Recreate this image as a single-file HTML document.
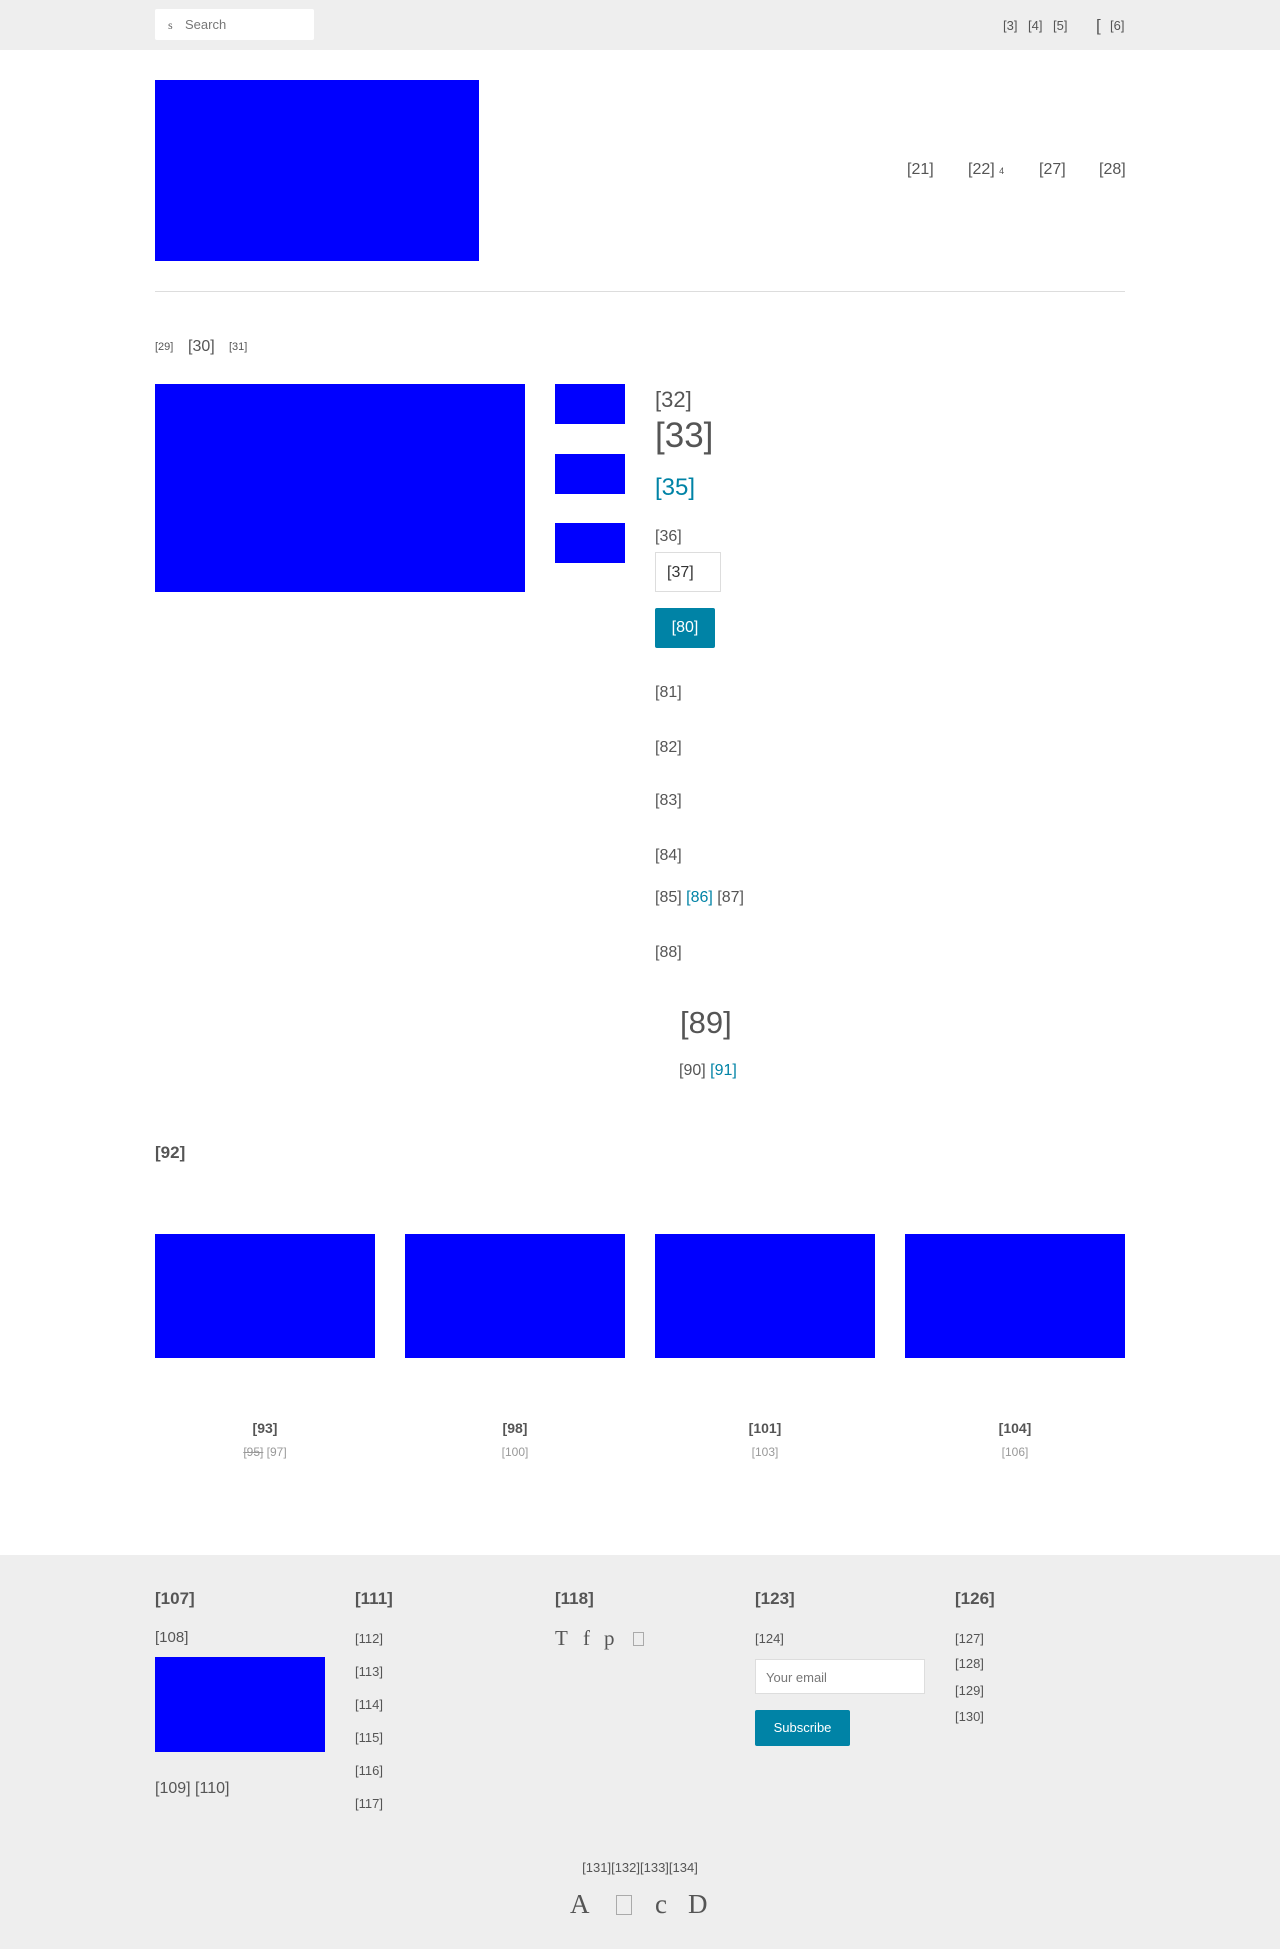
<!DOCTYPE html>
<html><head><meta charset="utf-8"><style>
*{box-sizing:border-box;margin:0;padding:0}
body{width:1280px;height:1949px;position:relative;background:#fff;font-family:"Liberation Sans",sans-serif;color:#555;overflow:hidden}
.a{position:absolute;white-space:nowrap;line-height:1}
.blue{position:absolute;background:#0000ff}
.teal{color:#0083a6}
</style></head><body>
<div class="a" style="left:0;top:0;width:1280px;height:50px;background:#eeeeee"></div>
<div class="a" style="left:155px;top:9px;width:159px;height:31px;background:#fff;border-radius:2px"></div>
<div class="a" style="left:168px;top:19px;font-size:12px;font-family:'Liberation Serif',serif;color:#666">s</div>
<div class="a" style="left:185px;top:18px;font-size:13px;color:#777">Search</div>
<div class="a" style="left:1003px;top:19px;font-size:13px">[3]</div>
<div class="a" style="left:1028px;top:19px;font-size:13px">[4]</div>
<div class="a" style="left:1053px;top:19px;font-size:13px">[5]</div>
<div class="a" style="left:1096px;top:17px;font-size:17px">[</div>
<div class="a" style="left:1110px;top:19px;font-size:13px">[6]</div>

<div class="blue" style="left:155px;top:80px;width:324px;height:181px"></div>
<div class="a" style="left:907px;top:162px;font-size:16px">[21]</div>
<div class="a" style="left:968px;top:162px;font-size:16px">[22] <span style="font-size:9px">4</span></div>
<div class="a" style="left:1039px;top:162px;font-size:16px">[27]</div>
<div class="a" style="left:1099px;top:162px;font-size:16px">[28]</div>
<div class="a" style="left:155px;top:291px;width:970px;height:1px;background:#ddd"></div>

<div class="a" style="left:155px;top:342px;font-size:11px">[29]</div>
<div class="a" style="left:188px;top:339px;font-size:16px">[30]</div>
<div class="a" style="left:229px;top:342px;font-size:11px">[31]</div>

<div class="blue" style="left:155px;top:384px;width:370px;height:208px"></div>
<div class="blue" style="left:555px;top:384px;width:70px;height:40px"></div>
<div class="blue" style="left:555px;top:454px;width:70px;height:40px"></div>
<div class="blue" style="left:555px;top:523px;width:70px;height:40px"></div>

<div class="a" style="left:655px;top:389px;font-size:22px">[32]</div>
<div class="a" style="left:655px;top:418px;font-size:35px">[33]</div>
<div class="a teal" style="left:655px;top:476px;font-size:24px">[35]</div>
<div class="a" style="left:655px;top:529px;font-size:16px">[36]</div>
<div class="a" style="left:655px;top:552px;width:66px;height:40px;border:1px solid #ddd;font-size:16px;padding:12px 0 0 11px;color:#333">[37]</div>
<div class="a" style="left:655px;top:608px;width:60px;height:40px;background:#0083a6;color:#fff;font-size:16px;text-align:center;padding-top:12px;border-radius:2px">[80]</div>
<div class="a" style="left:655px;top:685px;font-size:16px">[81]</div>
<div class="a" style="left:655px;top:740px;font-size:16px">[82]</div>
<div class="a" style="left:655px;top:793px;font-size:16px">[83]</div>
<div class="a" style="left:655px;top:848px;font-size:16px">[84]</div>
<div class="a" style="left:655px;top:890px;font-size:16px">[85] <span class="teal">[86]</span> [87]</div>
<div class="a" style="left:655px;top:945px;font-size:16px">[88]</div>
<div class="a" style="left:680px;top:1007px;font-size:31px">[89]</div>
<div class="a" style="left:679px;top:1063px;font-size:16px">[90] <span class="teal">[91]</span></div>

<div class="a" style="left:155px;top:1144px;font-size:17px;font-weight:bold">[92]</div>

<div class="blue" style="left:155px;top:1234px;width:220px;height:124px"></div>
<div class="blue" style="left:405px;top:1234px;width:220px;height:124px"></div>
<div class="blue" style="left:655px;top:1234px;width:220px;height:124px"></div>
<div class="blue" style="left:905px;top:1234px;width:220px;height:124px"></div>
<div class="a" style="left:155px;width:220px;text-align:center;top:1421px;font-size:14px;font-weight:bold">[93]</div>
<div class="a" style="left:405px;width:220px;text-align:center;top:1421px;font-size:14px;font-weight:bold">[98]</div>
<div class="a" style="left:655px;width:220px;text-align:center;top:1421px;font-size:14px;font-weight:bold">[101]</div>
<div class="a" style="left:905px;width:220px;text-align:center;top:1421px;font-size:14px;font-weight:bold">[104]</div>
<div class="a" style="left:155px;width:220px;text-align:center;top:1446px;font-size:12px;color:#999"><s>[95]</s> [97]</div>
<div class="a" style="left:405px;width:220px;text-align:center;top:1446px;font-size:12px;color:#999">[100]</div>
<div class="a" style="left:655px;width:220px;text-align:center;top:1446px;font-size:12px;color:#999">[103]</div>
<div class="a" style="left:905px;width:220px;text-align:center;top:1446px;font-size:12px;color:#999">[106]</div>

<div class="a" style="left:0;top:1555px;width:1280px;height:394px;background:#eeeeee"></div>
<div class="a" style="left:155px;top:1590px;font-size:17px;font-weight:bold">[107]</div>
<div class="a" style="left:355px;top:1590px;font-size:17px;font-weight:bold">[111]</div>
<div class="a" style="left:555px;top:1590px;font-size:17px;font-weight:bold">[118]</div>
<div class="a" style="left:755px;top:1590px;font-size:17px;font-weight:bold">[123]</div>
<div class="a" style="left:955px;top:1590px;font-size:17px;font-weight:bold">[126]</div>

<div class="a" style="left:155px;top:1630px;font-size:15px">[108]</div>
<div class="blue" style="left:155px;top:1657px;width:170px;height:95px"></div>
<div class="a" style="left:155px;top:1781px;font-size:16px">[109] [110]</div>

<div class="a" style="left:355px;top:1632px;font-size:13px">[112]</div>
<div class="a" style="left:355px;top:1665px;font-size:13px">[113]</div>
<div class="a" style="left:355px;top:1698px;font-size:13px">[114]</div>
<div class="a" style="left:355px;top:1731px;font-size:13px">[115]</div>
<div class="a" style="left:355px;top:1764px;font-size:13px">[116]</div>
<div class="a" style="left:355px;top:1797px;font-size:13px">[117]</div>

<div class="a" style="left:555px;top:1628px;font-size:21px;font-family:'Liberation Serif',serif">T</div>
<div class="a" style="left:583px;top:1628px;font-size:21px;font-family:'Liberation Serif',serif">f</div>
<div class="a" style="left:604px;top:1628px;font-size:21px;font-family:'Liberation Serif',serif">p</div>
<div class="a" style="left:633px;top:1632px;width:11px;height:14px;border:1px solid #aaa"></div>

<div class="a" style="left:755px;top:1632px;font-size:13px">[124]</div>
<div class="a" style="left:755px;top:1659px;width:170px;height:35px;background:#fff;border:1px solid #ddd;font-size:13px;color:#777;padding:11px 0 0 10px">Your email</div>
<div class="a" style="left:755px;top:1710px;width:95px;height:36px;background:#0083a6;color:#fff;font-size:13px;text-align:center;padding-top:11px;border-radius:2px">Subscribe</div>

<div class="a" style="left:955px;top:1632px;font-size:13px">[127]</div>
<div class="a" style="left:955px;top:1657px;font-size:13px">[128]</div>
<div class="a" style="left:955px;top:1684px;font-size:13px">[129]</div>
<div class="a" style="left:955px;top:1710px;font-size:13px">[130]</div>

<div class="a" style="left:0;width:1280px;text-align:center;top:1861px;font-size:13px">[131][132][133][134]</div>
<div class="a" style="left:570px;top:1891px;font-size:27px;font-family:'Liberation Serif',serif">A</div>
<div class="a" style="left:616px;top:1895px;width:16px;height:20px;border:1px solid #aaa"></div>
<div class="a" style="left:655px;top:1891px;font-size:27px;font-family:'Liberation Serif',serif">c</div>
<div class="a" style="left:688px;top:1891px;font-size:27px;font-family:'Liberation Serif',serif">D</div>
</body></html>
